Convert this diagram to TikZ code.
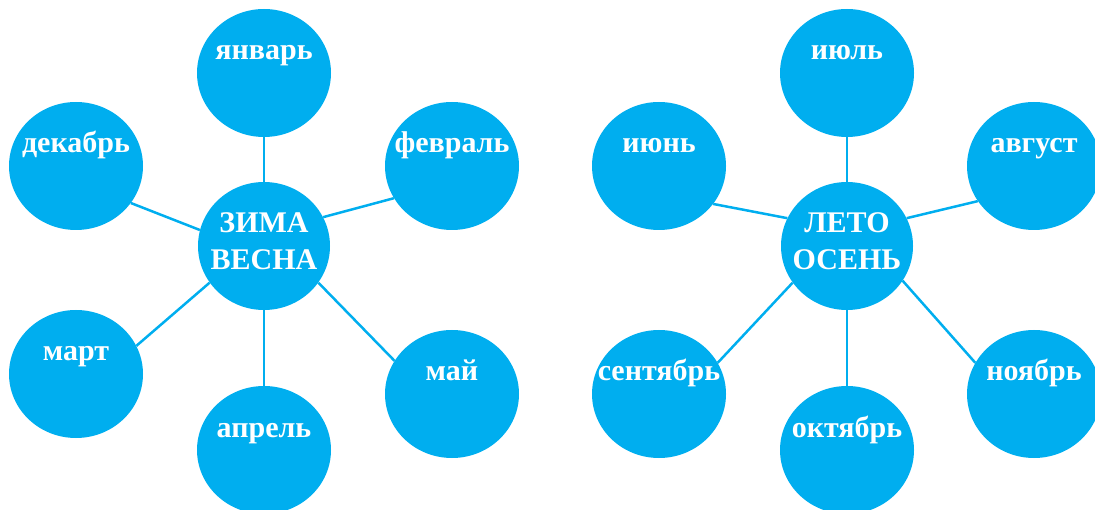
\documentclass[tikz,border=0pt]{standalone}
\usepackage{fontspec}
\setmainfont{Liberation Serif}
\usepackage{tikz}
\usetikzlibrary{shapes,positioning,backgrounds}

\definecolor{skyblue}{RGB}{0,174,239}

\begin{document}
\begin{tikzpicture}[
    x=1pt, y=-1pt,
    month/.style={ellipse, fill=skyblue, inner sep=0pt, minimum width=134pt, minimum height=128pt},
    season/.style={ellipse, fill=skyblue, inner sep=0pt, minimum width=132pt, minimum height=128pt},
    monthtext/.style={anchor=base, text=white, font=\fontsize{30}{36}\selectfont\bfseries, inner sep=0pt},
    seasontext/.style={align=center, text=white, font=\fontsize{30}{37}\selectfont\bfseries, inner sep=0pt},
    link/.style={draw=skyblue, line width=2.5pt}
]
\useasboundingbox (0,0) rectangle (1095,510);

% Winter and spring
\node[season] at (264,246) (zv) {};
\node[month] at (264,73) (jan) {};
\node[month] at (76,166) (dec) {};
\node[month] at (452,166) (feb) {};
\node[month] at (76,374) (mar) {};
\node[month] at (264,450) (apr) {};
\node[month] at (452,394) (may) {};

\node[seasontext] at ([yshift=4.5pt]zv.center) (zvtext) {ЗИМА\\ВЕСНА};
\node[monthtext] at ([yshift=13pt]jan.center) (jantext) {январь};
\node[monthtext] at ([yshift=13pt]dec.center) (dectext) {декабрь};
\node[monthtext] at ([yshift=13pt]feb.center) (febtext) {февраль};
\node[monthtext] at ([yshift=13pt]mar.center) (martext) {март};
\node[monthtext] at ([yshift=13pt]apr.center) (aprtext) {апрель};
\node[monthtext] at ([yshift=13pt]may.center) (maytext) {май};

% Summer and autumn
\node[season] at (847,246) (lo) {};
\node[month] at (847,73) (jul) {};
\node[month] at (659,166) (jun) {};
\node[month] at (1034,166) (aug) {};
\node[month] at (659,394) (sep) {};
\node[month] at (847,450) (oct) {};
\node[month] at (1034,394) (nov) {};

\node[seasontext] at ([yshift=4.5pt]lo.center) (lotext) {ЛЕТО\\ОСЕНЬ};
\node[monthtext] at ([yshift=13pt]jul.center) (jultext) {июль};
\node[monthtext] at ([yshift=13pt]jun.center) (juntext) {июнь};
\node[monthtext] at ([yshift=13pt]aug.center) (augtext) {август};
\node[monthtext] at ([yshift=13pt]sep.center) (septext) {сентябрь};
\node[monthtext] at ([yshift=13pt]oct.center) (octtext) {октябрь};
\node[monthtext] at ([yshift=13pt]nov.center) (novtext) {ноябрь};

% Spokes
\begin{scope}[on background layer]
\draw[link] (zv.north) -- (jan.south);
\draw[link] (zv.166) -- (dec.-34);
\draw[link] (zv.26) -- (feb.209);
\draw[link] (zv.214) -- (mar.25);
\draw[link] (zv.south) -- (apr.north);
\draw[link] (zv.-34) -- (may.150);

\draw[link] (lo.north) -- (jul.south);
\draw[link] (lo.155) -- (jun.-35);
\draw[link] (lo.25) -- (aug.212);
\draw[link] (lo.214) -- (sep.28);
\draw[link] (lo.south) -- (oct.north);
\draw[link] (lo.-32) -- (nov.152);
\end{scope}

\end{tikzpicture}
\end{document}
